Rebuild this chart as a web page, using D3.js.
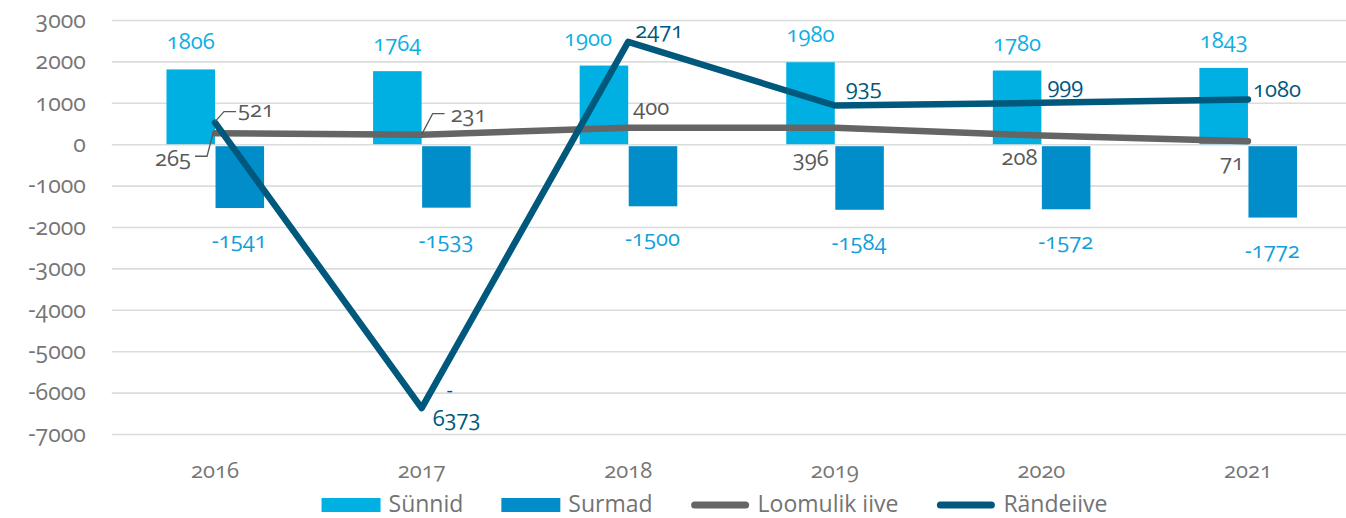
<!DOCTYPE html>
<html>
<head>
<meta charset="utf-8">
<script src="https://cdn.jsdelivr.net/npm/d3@7"></script>
<style>
  body { margin: 0; background: #fff; }
  svg text { font-family: "Open Sans", sans-serif; font-size: 22px; font-variant-numeric: oldstyle-nums; }
</style>
</head>
<body>
<div id="chart"></div>
<script>
const years = ["2016", "2017", "2018", "2019", "2020", "2021"];
const births = [1806, 1764, 1900, 1980, 1780, 1843];      // Sünnid
const deaths = [-1541, -1533, -1500, -1584, -1572, -1772]; // Surmad
const natural = [265, 231, 400, 396, 208, 71];             // Loomulik iive
const migration = [521, -6373, 2471, 935, 999, 1080];      // Rändeiive
const yTicks = [3000, 2000, 1000, 0, -1000, -2000, -3000, -4000, -5000, -6000, -7000];
const legendNames = ["Sünnid", "Surmad", "Loomulik iive", "Rändeiive"];

const width = 1346, height = 518;
const cBirth = "#00b0e2", cDeath = "#008dc9", cNat = "#656565", cMig = "#00587c";

const svg = d3.select("#chart").append("svg")
    .attr("width", width)
    .attr("height", height);

const x = d3.scaleBand().domain(years).range([111.75, 1351.25]).padding(0);
const y = d3.scaleLinear().domain([-7000, 3000]).range([434, 20]);
const cx = d => x(d) + x.bandwidth() / 2;
const barW = x.bandwidth() * 0.235;

// gridlines + y labels
const yAxis = d3.axisLeft(y).tickValues(yTicks).tickFormat(d => String(d))
    .tickSize(-(1351.25 - 111.75)).tickPadding(26);
const ga = svg.append("g").attr("transform", "translate(111.75,0)").call(yAxis);
ga.select(".domain").remove();
ga.selectAll(".tick line").attr("stroke", "#dcdcdc").attr("stroke-width", 1.6);
ga.selectAll(".tick text").attr("fill", "#767676").style("font-size", "23px");

// x labels
const xAxis = d3.axisBottom(x).tickSize(0).tickPadding(0);
const gx = svg.append("g").attr("transform", "translate(0,470)").call(xAxis);
gx.select(".domain").remove();
gx.selectAll(".tick text").attr("fill", "#767676").attr("dy", "0.35em").style("font-size", "22px");

// bars
svg.selectAll("rect.birth").data(births).enter().append("rect")
    .attr("x", (d, i) => cx(years[i]) - barW)
    .attr("y", d => y(d))
    .attr("width", barW)
    .attr("height", d => y(0) - y(d))
    .attr("fill", cBirth);

svg.selectAll("rect.death").data(deaths).enter().append("rect")
    .attr("x", (d, i) => cx(years[i]) + 0.5)
    .attr("y", y(0) + 2)
    .attr("width", barW)
    .attr("height", d => y(d) - y(0) - 2)
    .attr("fill", cDeath);

// bar labels
const birthNudge = [0, 0, -16, 0, 0, 0];
svg.selectAll("text.bl").data(births).enter().append("text")
    .attr("x", (d, i) => cx(years[i]) - barW / 2 + birthNudge[i])
    .attr("y", d => y(d) - 20)
    .attr("text-anchor", "middle")
    .attr("fill", "#0cafe3")
    .text(d => d);

svg.selectAll("text.dl").data(deaths).enter().append("text")
    .attr("x", (d, i) => cx(years[i]) + barW / 2)
    .attr("y", d => y(d) + 40)
    .attr("text-anchor", "middle")
    .attr("fill", "#129fd9")
    .text(d => d);

// lines
const line = d3.line().x((d, i) => cx(years[i])).y(d => y(d));
svg.append("path").datum(natural)
    .attr("d", line).attr("fill", "none")
    .attr("stroke", cNat).attr("stroke-width", 6.5)
    .attr("stroke-linecap", "round").attr("stroke-linejoin", "round");
svg.append("path").datum(migration)
    .attr("d", line).attr("fill", "none")
    .attr("stroke", cMig).attr("stroke-width", 6.5)
    .attr("stroke-linecap", "round").attr("stroke-linejoin", "round");

// line labels: [dx, dy(center), anchor, leader points or null]
const natPlace = [
    [-24, 25, "end", [[-2, 0], [-8, 23], [-20, 23]]],
    [29, -20, "start", [[0, 0], [11, -21], [23, -21]]],
    [5, -20, "start", null],
    [-6, 30, "end", null],
    [-4, 22, "end", null],
    [-4, 21, "end", null]
];
const migPlace = [
    [23, -13, "start", [[0, -1], [9, -11], [21, -11]]],
    [11, 10, "start", null],
    [7, -12, "start", null],
    [11, -18, "start", null],
    [6, -18, "start", null],
    [5, -10, "start", null]
];

function lineLabels(vals, place, color) {
    vals.forEach((v, i) => {
        const px = cx(years[i]), py = y(v);
        const p = place[i];
        if (p[3]) {
            svg.append("path")
                .attr("d", d3.line()(p[3].map(q => [px + q[0], py + q[1]])))
                .attr("fill", "none").attr("stroke", "#595959").attr("stroke-width", 1.3);
        }
        const t = svg.append("text")
            .attr("x", px + p[0])
            .attr("y", py + p[1])
            .attr("dy", "0.35em")
            .attr("text-anchor", p[2])
            .attr("fill", p[3] ? "#595959" : color);
        if (v < -999 && i === 1) {
            // wrapped label: minus sign sits above the digits
            svg.append("text").attr("x", px + 28).attr("y", py - 18).attr("dy", "0.35em")
                .attr("text-anchor", "middle").attr("fill", color).style("font-size", "20px").text("-");
            t.text(String(Math.abs(v)));
        } else {
            t.text(v);
        }
    });
}
lineLabels(natural, natPlace, "#595959");
lineLabels(migration, migPlace, cMig);

// legend
const legend = svg.append("g").attr("transform", "translate(0,505)");
const symW = 59;
let lx = 0;
const items = [];
legendNames.forEach((name, i) => {
    const g = legend.append("g");
    if (i < 2) {
        g.append("rect").attr("x", 0).attr("y", -7).attr("width", symW).attr("height", 14)
            .attr("fill", i === 0 ? cBirth : cDeath);
    } else {
        g.append("line").attr("x1", 4).attr("x2", symW - 4).attr("y1", 0).attr("y2", 0)
            .attr("stroke", i === 2 ? cNat : cMig).attr("stroke-width", 7).attr("stroke-linecap", "round");
    }
    const t = g.append("text").attr("x", symW + 8).attr("y", 7)
        .attr("fill", "#737373").style("font-size", "23px").text(name);
    const w = symW + 8 + t.node().getComputedTextLength();
    items.push([g, w]);
});
const gap = 38;
const total = d3.sum(items, d => d[1]) + gap * (items.length - 1);
lx = 714.5 - total / 2;
items.forEach(([g, w]) => {
    g.attr("transform", `translate(${lx},0)`);
    lx += w + gap;
});
</script>
</body>
</html>
